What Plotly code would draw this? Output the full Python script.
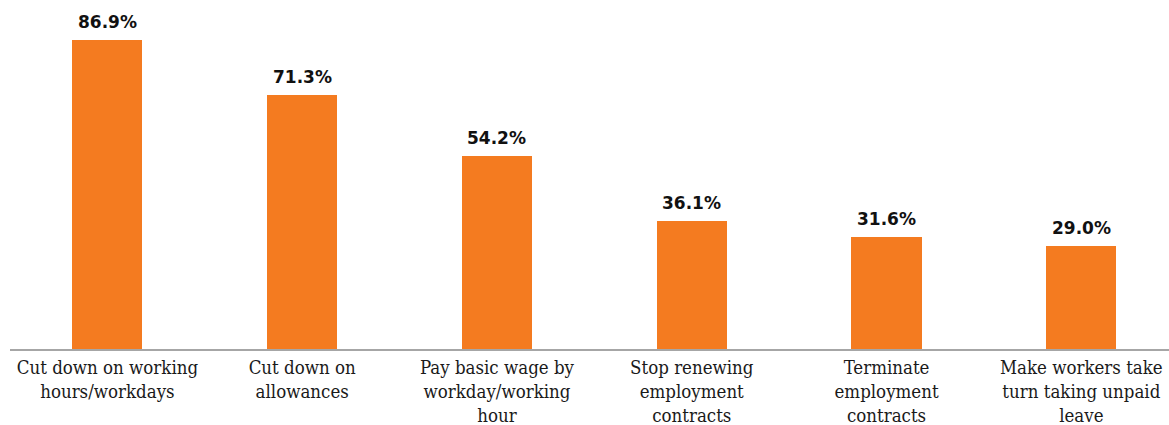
import plotly.graph_objects as go

categories = [
    "Cut down on working<br>hours/workdays",
    "Cut down on<br>allowances",
    "Pay basic wage by<br>workday/working<br>hour",
    "Stop renewing<br>employment<br>contracts",
    "Terminate<br>employment<br>contracts",
    "Make workers take<br>turn taking unpaid<br>leave",
]
values = [86.9, 71.3, 54.2, 36.1, 31.6, 29.0]
labels = [f"{v:.1f}%" for v in values]

xs = list(range(len(categories)))

fig = go.Figure(go.Bar(
    x=xs,
    y=values,
    marker=dict(color="#F47B20", line=dict(width=0)),
    width=0.36,
    hoverinfo="skip",
))

for x, v, t in zip(xs, values, labels):
    fig.add_annotation(
        x=x, y=v, text=f"<b>{t}</b>", showarrow=False,
        yanchor="bottom", yshift=6,
        font=dict(family="DejaVu Sans", size=17, color="#111111"),
    )

fig.update_layout(
    width=1169, height=425,
    margin=dict(l=10, r=0, t=0, b=76),
    plot_bgcolor="white", paper_bgcolor="white",
    showlegend=False,
    xaxis=dict(
        tickmode="array",
        tickvals=xs,
        ticktext=categories,
        range=[-0.5, 5.45],
        showline=True, linecolor="#A6A6A6", linewidth=2,
        ticks="", showgrid=False, zeroline=False,
        tickfont=dict(family="DejaVu Serif Condensed, DejaVu Serif", size=18.5, color="#1a1a1a"),
        ticklabelstandoff=1,
    ),
    yaxis=dict(range=[0, 98.1], visible=False, showgrid=False, zeroline=False),
    bargap=0,
)

fig.write_html("out.html")
